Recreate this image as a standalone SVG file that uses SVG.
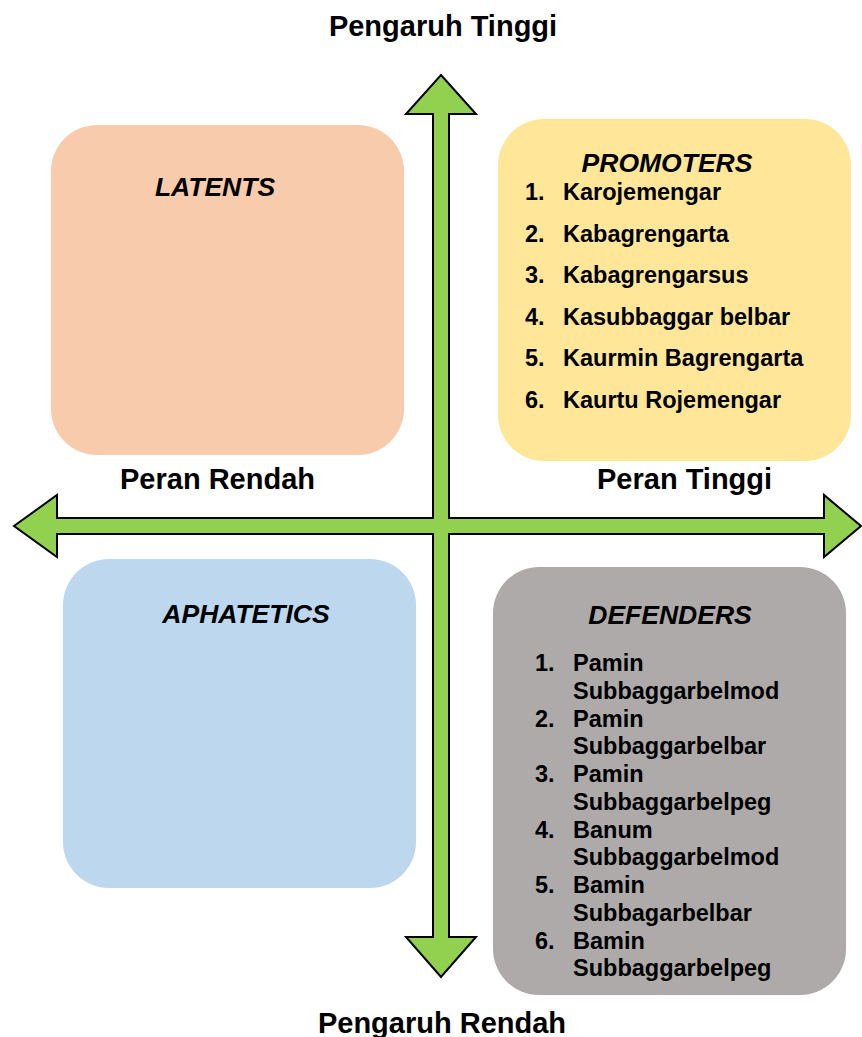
<svg xmlns="http://www.w3.org/2000/svg" width="862" height="1037" viewBox="0 0 862 1037">
  <style>
    .box { stroke: none; }
    .axis { font-family: "Liberation Sans", Arial, sans-serif; font-weight: bold; font-size: 29px; fill: #000; }
    .head { font-family: "Liberation Sans", Arial, sans-serif; font-weight: bold; font-style: italic; font-size: 26.5px; fill: #000; text-anchor: middle; }
    .item { font-family: "Liberation Sans", Arial, sans-serif; font-weight: bold; font-size: 23.5px; fill: #000; }
    .cross { fill: #92D050; stroke: #000; stroke-width: 2; stroke-linejoin: miter; }
  </style>

  <!-- axis arrows -->
  <g id="connectors">
    <polygon class="cross" points="441,75 476,114 449,114 449,518 824,518 824,495 861,526 824,557 824,534 449,534 449,937 476,937 441,977 406,937 433,937 433,534 57,534 57,557 14,526 57,495 57,518 433,518 433,114 406,114"/>
  </g>

  <!-- axis labels -->
  <g id="label-top"><text class="axis" x="443" y="36" text-anchor="middle">Pengaruh Tinggi</text></g>
  <g id="label-bottom"><text class="axis" x="442" y="1033" text-anchor="middle">Pengaruh Rendah</text></g>
  <g id="label-left"><text class="axis" x="120" y="489">Peran Rendah</text></g>
  <g id="label-right"><text class="axis" x="597" y="489">Peran Tinggi</text></g>

  <!-- quadrant: latents -->
  <g id="latents">
    <rect class="box" x="51" y="125" width="353" height="330" rx="46" fill="#F8CBAD"/>
    <text class="head" x="215" y="196">LATENTS</text>
  </g>

  <!-- quadrant: promoters -->
  <g id="promoters">
    <rect class="box" x="498" y="119" width="353" height="342" rx="46" fill="#FFE699"/>
    <text class="head" x="667" y="172">PROMOTERS</text>
    <g class="item">
      <text x="525" y="200">1.</text><text x="563" y="200">Karojemengar</text>
      <text x="525" y="241.5">2.</text><text x="563" y="241.5">Kabagrengarta</text>
      <text x="525" y="283">3.</text><text x="563" y="283">Kabagrengarsus</text>
      <text x="525" y="324.5">4.</text><text x="563" y="324.5">Kasubbaggar belbar</text>
      <text x="525" y="366">5.</text><text x="563" y="366">Kaurmin Bagrengarta</text>
      <text x="525" y="407.5">6.</text><text x="563" y="407.5">Kaurtu Rojemengar</text>
    </g>
  </g>

  <!-- quadrant: apathetics -->
  <g id="aphatetics">
    <rect class="box" x="63" y="559" width="353" height="329" rx="46" fill="#BDD7EE"/>
    <text class="head" x="246" y="623">APHATETICS</text>
  </g>

  <!-- quadrant: defenders -->
  <g id="defenders">
    <rect class="box" x="493" y="567" width="353" height="428" rx="46" fill="#AEAAAA"/>
    <text class="head" x="670" y="624">DEFENDERS</text>
    <g class="item">
      <text x="535" y="671">1.</text><text x="573" y="671">Pamin</text>
      <text x="573" y="698.5">Subbaggarbelmod</text>
      <text x="535" y="726.5">2.</text><text x="573" y="726.5">Pamin</text>
      <text x="573" y="754">Subbaggarbelbar</text>
      <text x="535" y="782">3.</text><text x="573" y="782">Pamin</text>
      <text x="573" y="809.5">Subbaggarbelpeg</text>
      <text x="535" y="837.5">4.</text><text x="573" y="837.5">Banum</text>
      <text x="573" y="865">Subbaggarbelmod</text>
      <text x="535" y="893">5.</text><text x="573" y="893">Bamin</text>
      <text x="573" y="920.5">Subbagarbelbar</text>
      <text x="535" y="948.5">6.</text><text x="573" y="948.5">Bamin</text>
      <text x="573" y="976">Subbaggarbelpeg</text>
    </g>
  </g>
</svg>
